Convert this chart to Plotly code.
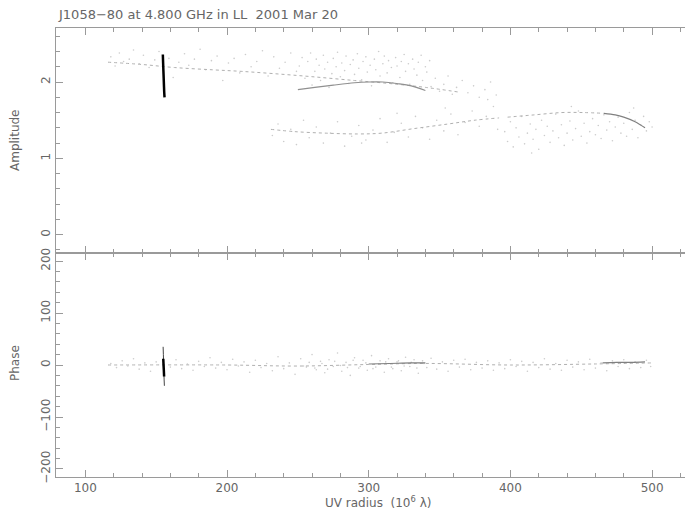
import plotly.graph_objects as go

# ---------------- data ----------------
TITLE = "J1058\u221280 at 4.800 GHz in LL  2001 Mar 20"

# amplitude scatter (visibility points)
amp_x = [118,121,124,127,131,134,138,141,145,149,152,159,162,166,170,173,177,181,185,189,193,197,201,205,209,213,217,221,225,229,233,237,241,245,249,
         251,253,255,257,259,260,262,263,265,266,268,269,271,272,274,275,277,278,280,281,283,284,286,287,289,290,292,293,295,296,298,299,301,302,304,305,307,308,310,311,313,314,316,317,319,320,322,323,325,326,328,329,331,332,334,335,337,338,340,341,343,344,
         347,350,353,356,359,362,366,370,374,378,382,386,390,
         232,236,240,245,249,254,258,263,268,273,278,283,288,293,295,298,303,308,313,318,320,323,328,333,338,343,348,353,354,358,363,368,373,378,383,384,388,391,
         396,398,400,402,404,406,408,410,412,414,416,418,420,422,424,426,428,430,432,434,436,438,440,442,444,446,448,450,452,454,456,458,460,462,464,466,468,470,472,474,476,478,480,482,484,486,488,490,492,494,496,498,500,443,487,415]
amp_y = [2.33,2.21,2.38,2.27,2.30,2.42,2.24,2.35,2.19,2.29,2.40,2.31,2.06,2.26,2.37,2.22,2.30,2.43,2.16,2.28,2.34,2.02,2.25,2.31,2.12,2.36,2.20,2.27,2.41,2.08,2.33,2.18,2.26,2.38,2.14,
         2.21,2.32,2.05,2.27,2.38,1.96,2.14,2.30,2.22,2.02,2.35,2.17,2.26,1.93,2.11,2.31,2.20,2.39,2.07,2.25,2.15,2.34,1.98,2.23,2.29,2.10,2.37,2.18,2.03,2.27,2.33,2.13,2.22,1.95,2.30,2.16,2.40,2.08,2.24,2.34,2.12,2.28,2.19,1.99,2.32,2.21,2.06,2.27,2.36,2.14,2.24,1.97,2.30,2.17,2.09,2.26,2.35,2.02,2.20,2.13,2.28,1.94,
         2.05,1.88,1.97,2.08,1.84,1.93,2.02,1.86,1.95,1.80,1.90,2.00,1.83,
         1.30,1.45,1.22,1.38,1.18,1.50,1.27,1.41,1.20,1.33,1.48,1.16,1.29,1.43,1.20,1.24,1.37,1.52,1.21,1.34,1.59,1.46,1.28,1.55,1.40,1.25,1.50,1.36,1.66,1.58,1.31,1.47,1.62,1.42,1.55,1.77,1.68,1.38,
         1.35,1.22,1.48,1.15,1.40,1.28,1.55,1.19,1.33,1.45,1.25,1.38,1.12,1.50,1.30,1.42,1.21,1.36,1.58,1.27,1.44,1.17,1.33,1.49,1.24,1.39,1.62,1.29,1.46,1.20,1.35,1.52,1.31,1.43,1.26,1.57,1.37,1.48,1.23,1.41,1.54,1.33,1.46,1.29,1.60,1.38,1.50,1.27,1.44,1.55,1.36,1.48,1.41,1.68,1.66,1.07]

# dense calibrator stroke near 155
amp_core_x = [154.7,154.9,155.1,155.3,155.5,155.7,155.9]
amp_core_y = [2.36,2.25,2.15,2.05,1.95,1.86,1.80]

# model curves (amplitude)
amp_m1_x = [116,140,163,190,210,233,260,290,315,340,363]
amp_m1_y = [2.26,2.23,2.19,2.16,2.14,2.11,2.07,2.02,1.98,1.93,1.87]
amp_m2_x = [250,262,275,290,300,310,320,330,340]
amp_m2_y = [1.90,1.93,1.96,1.99,2.00,2.00,1.98,1.95,1.89]
amp_m3_x = [231,248,270,292,309,332,356,375,392]
amp_m3_y = [1.38,1.35,1.33,1.32,1.33,1.39,1.45,1.50,1.53]
amp_m4_x = [398,417,436,452,466]
amp_m4_y = [1.54,1.57,1.60,1.60,1.59]
amp_m5_x = [466,474,480,488,495]
amp_m5_y = [1.59,1.57,1.54,1.48,1.40]

# phase scatter
ph_x = [118,122,126,130,134,138,142,146,150,160,164,168,172,176,180,184,188,192,196,200,204,208,212,216,220,224,228,232,236,240,244,248,252,256,260,263,266,269,272,275,278,281,284,287,290,293,296,299,302,305,308,311,314,317,320,323,326,329,332,335,338,341,344,348,352,356,360,364,368,372,376,380,384,388,392,396,400,404,408,412,416,420,424,428,432,436,440,444,448,452,456,460,464,468,472,476,480,484,488,492,496,499,
        254,258,262,267,271,276,280,285,289,294,298,303,307,312,316,321,325,330,334,339]
ph_y = [3,-5,8,-2,12,-8,4,-12,6,-4,10,-7,2,-10,7,-3,14,-6,5,-9,11,-2,6,-14,9,-5,3,-11,16,-7,4,-18,12,-4,20,-9,7,-15,10,-3,23,-12,5,-20,14,-6,9,-10,18,-4,8,-14,12,-7,6,-11,15,-3,10,-16,8,-5,13,-8,6,-12,9,-4,11,-9,5,-6,8,-10,4,-7,10,-3,7,-12,5,-5,12,-8,3,-10,9,-4,6,-9,11,-6,4,-11,8,-3,10,-7,6,-5,9,-3,
        -2,5,-6,3,-8,7,-1,-5,9,-3,4,-7,2,6,-4,8,-2,5,-6,3]

ph_core_x = [155.0,155.2,155.4,155.6]
ph_core_y = [12,0,-10,-22]
ph_thin_x = [154.9,155.2,155.5,155.8]
ph_thin_y = [35,10,-20,-40]

# phase models
ph_m1_x = [116,200,250,300,340,400,460,500]
ph_m1_y = [0,0,-2,1,3,0,2,4]
ph_m2_x = [300,315,330,340]
ph_m2_y = [2,3,4,4]
ph_m3_x = [465,475,485,495]
ph_m3_y = [4,5,5,6]

# ---------------- figure ----------------
DOT = "#cccccc"
MOD = "#b0b0b0"
fig = go.Figure()

def pts(x, y, xa, ya, color=DOT, size=1.6):
    fig.add_trace(go.Scatter(x=x, y=y, mode="markers", xaxis=xa, yaxis=ya,
                             marker=dict(size=size, color=color, line=dict(width=0)),
                             hoverinfo="skip"))

def line(x, y, xa, ya, color=MOD, width=1, dash="solid"):
    fig.add_trace(go.Scatter(x=x, y=y, mode="lines", xaxis=xa, yaxis=ya,
                             line=dict(color=color, width=width, dash=dash, shape="spline"),
                             hoverinfo="skip"))

# amplitude panel (x2, y2)
pts(amp_x, amp_y, "x2", "y2")
line(amp_m1_x, amp_m1_y, "x2", "y2", dash="dot")
line(amp_m2_x, amp_m2_y, "x2", "y2", color="#909090", width=1.1)
line(amp_m3_x, amp_m3_y, "x2", "y2", dash="dot")
line(amp_m4_x, amp_m4_y, "x2", "y2", dash="dot")
line(amp_m5_x, amp_m5_y, "x2", "y2", color="#808080", width=1.2)
line(amp_core_x, amp_core_y, "x2", "y2", color="black", width=2.5)

# phase panel (x, y)
pts(ph_x, ph_y, "x", "y")
line(ph_m1_x, ph_m1_y, "x", "y", dash="dot")
line(ph_m2_x, ph_m2_y, "x", "y", color="#808080", width=1.1)
line(ph_m3_x, ph_m3_y, "x", "y", color="#808080", width=1.1)
line(ph_thin_x, ph_thin_y, "x", "y", color="#444", width=1)
line(ph_core_x, ph_core_y, "x", "y", color="black", width=2.5)

AX = "#9a9a9a"
FONT = dict(family="DejaVu Sans", size=12, color="#666")
common = dict(showgrid=False, zeroline=False, showline=True, linecolor=AX, linewidth=1,
              ticks="inside", tickcolor=AX, ticklen=7, tickwidth=1, mirror="ticks",
              tickfont=FONT)
SPLIT = (469 - 245) / 449

fig.update_layout(
    width=693, height=511, showlegend=False,
    paper_bgcolor="white", plot_bgcolor="white",
    margin=dict(l=48, r=2, t=20, b=42),
    font=FONT,
    xaxis=dict(domain=[0, 1], anchor="y", range=[79.3, 533.1], dtick=100, tick0=0,
               minor=dict(dtick=20, ticks="inside", ticklen=4, tickcolor=AX, showgrid=False),
               **common),
    xaxis2=dict(domain=[0, 1], anchor="y2", range=[79.3, 533.1], matches="x", dtick=100, tick0=0,
                showticklabels=False,
                minor=dict(dtick=20, ticks="inside", ticklen=4, tickcolor=AX, showgrid=False),
                **common),
    yaxis=dict(domain=[0, SPLIT], anchor="x", range=[-215.4, 215.4], dtick=100, tick0=0,
               tickangle=-90,
               minor=dict(dtick=20, ticks="inside", ticklen=4, tickcolor=AX, showgrid=False),
               **common),
    yaxis2=dict(domain=[SPLIT, 1], anchor="x2", range=[-0.240, 2.708], dtick=1, tick0=0,
                tickangle=-90,
                minor=dict(dtick=0.2, ticks="inside", ticklen=4, tickcolor=AX, showgrid=False),
                **common),
    annotations=[
        dict(text=TITLE, xref="paper", yref="paper", x=0, y=1 + 13.5 / 449,
             xanchor="left", yanchor="middle", showarrow=False,
             font=dict(family="DejaVu Sans", size=13, color="#666")),
        dict(text="Amplitude", xref="paper", yref="paper", x=-41 / 643, y=(469 - 132) / 449,
             textangle=-90, xanchor="center", yanchor="middle", showarrow=False, font=FONT),
        dict(text="Phase", xref="paper", yref="paper", x=-41 / 643, y=(469 - 355) / 449,
             textangle=-90, xanchor="center", yanchor="middle", showarrow=False, font=FONT),
        dict(text="UV radius  (10<sup>6</sup> \u03bb)", xref="paper", yref="paper",
             x=0.5, y=-(494 - 469) / 449, xanchor="center", yanchor="middle",
             showarrow=False, font=FONT),
    ],
)

fig.write_html("out.html")
